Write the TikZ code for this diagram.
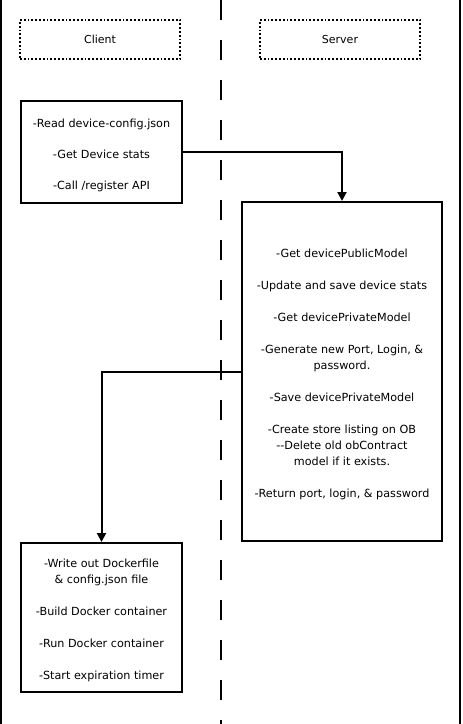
\documentclass[tikz,border=0pt]{standalone}
\usepackage{fontspec}
\setmainfont{DejaVu Sans}
\usetikzlibrary{arrows.meta,positioning}

\tikzset{
  lane/.style={line width=2pt},
  head/.style={draw,dotted,line width=1.8pt,minimum width=160pt,minimum height=39pt,font=\fontsize{11}{13}\selectfont},
  stepbox/.style={draw,line width=2pt,align=center,inner sep=0pt,font=\fontsize{11.2}{16}\selectfont},
  flow/.style={line width=2pt,-{Triangle[length=9pt,width=9pt]}}
}
% pushes the text of a box a little down
\newcommand{\lowtext}{\rule{0pt}{14.5pt}\\[-16pt]}

\begin{document}
\begin{tikzpicture}[x=1pt,y=-1pt]
    \useasboundingbox (0,0) rectangle (463,724);

    % swim lanes
    \coordinate (lt) at (1,0);
    \coordinate (lb) at (1,724);
    \coordinate (rt) at (460,0);
    \coordinate (rb) at (460,724);
    \coordinate (mt) at (221,0);
    \coordinate (mb) at (221,724);
    \draw[lane] (lt) -- (lb);
    \draw[lane] (rt) -- (rb);
    \draw[lane,dash pattern=on 20pt off 20pt] (mt) -- (mb);

    \node[head] (client) at (100,39.5) {Client};
    \node[head] (server) at (340,39.5) {Server};

    \node[stepbox,minimum width=161pt,minimum height=102pt] (reg) at (101.5,152)
      {\lowtext
       -Read device-config.json\\[15pt]
       -Get Device stats\\[15pt]
       -Call /register API};

    \node[stepbox,minimum width=200pt,minimum height=339pt] (srv) at (342,371.5)
      {\lowtext
       -Get devicePublicModel\\[16pt]
       -Update and save device stats\\[16pt]
       -Get devicePrivateModel\\[16pt]
       -Generate new Port, Login, \&\\
       password.\\[16pt]
       -Save devicePrivateModel\\[16pt]
       -Create store listing on OB\\
       -{}-Delete old obContract\\
       model if it exists.\\[16pt]
       -Return port, login, \& password};

    \node[stepbox,minimum width=161pt,minimum height=149pt] (run) at (101.5,617.5)
      {\lowtext
       -Write out Dockerfile\\
       \& config.json file\\[16pt]
       -Build Docker container\\[16pt]
       -Run Docker container\\[16pt]
       -Start expiration timer};

    \draw[flow] (reg.east) -| (srv.north);
    \draw[flow] (srv.west) -| (run.north);
\end{tikzpicture}
\end{document}
